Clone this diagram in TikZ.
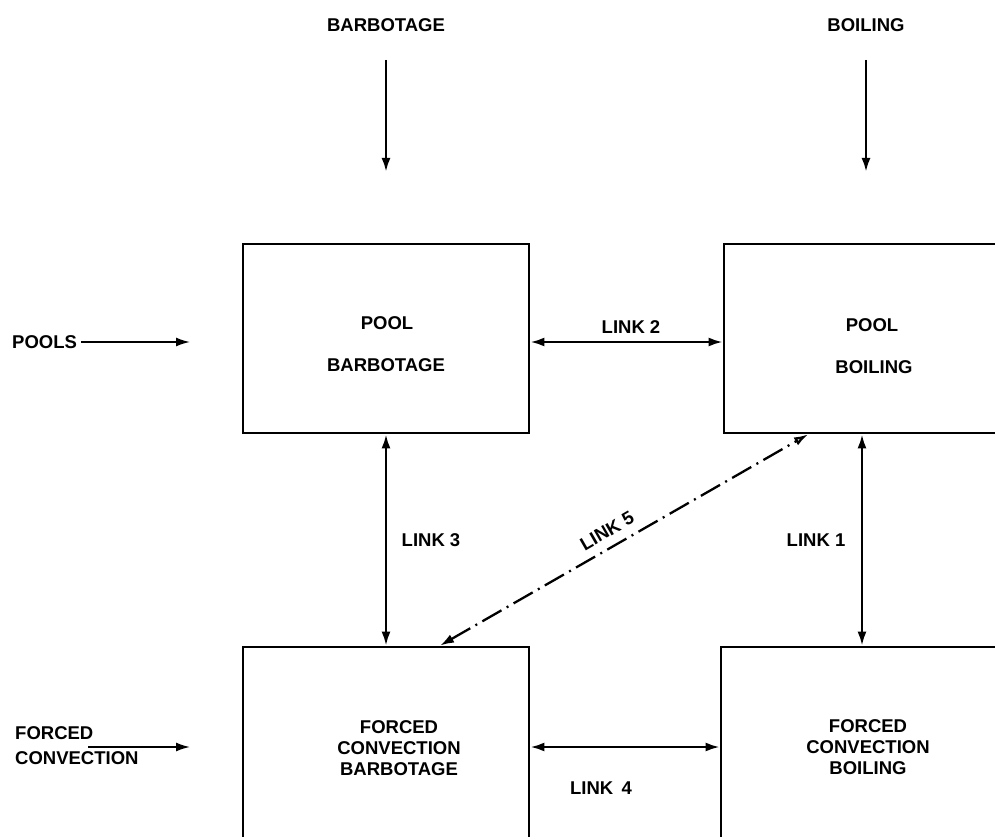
\documentclass[tikz,border=0pt]{standalone}
\usepackage{fontspec}
\setmainfont{Liberation Sans}
\usetikzlibrary{arrows.meta}
\begin{document}
\begin{tikzpicture}[x=1pt,y=-1pt,
  box/.style={draw, line width=2.8pt, inner sep=0pt},
  lbl/.style={font=\bfseries\fontsize{18.5}{21}\selectfont, inner sep=0pt},
  conn/.style={line width=2.6pt, -{Latex[length=14pt,width=9pt]}},
  dconn/.style={line width=2.3pt, {Latex[length=14pt,width=9pt]}-{Latex[length=14pt,width=9pt]}},
  dashconn/.style={line width=2.3pt, dash pattern=on 22pt off 6pt on 2pt off 6pt,
     {Latex[length=14pt,width=9pt]}-{Latex[open,length=14pt,width=9pt]}}
]
\useasboundingbox (0,0) rectangle (995,837);
\clip (0,0) rectangle (995,837);
\fill[white] (0,0) rectangle (995,837);

% boxes
\node[box, minimum width=286pt, minimum height=189pt] (pb) at (386,338.5) {};
\node[box, minimum width=296pt, minimum height=189pt] (pbo) at (872,338.5) {};
\node[box, minimum width=286pt, minimum height=200pt] (fcb) at (386,747) {};
\node[box, minimum width=298pt, minimum height=200pt] (fcbo) at (870,747) {};

% box texts
\node[lbl] (pbt1) at (387,323) {POOL};
\node[lbl] (pbt2) at (386,365) {BARBOTAGE};
\node[lbl] (pbot1) at (872,325) {POOL};
\node[lbl] (pbot2) at (874,367) {BOILING};
\node[lbl, align=center] (fcbt) at (399,748) {FORCED\\CONVECTION\\BARBOTAGE};
\node[lbl, align=center] (fcbot) at (868,747) {FORCED\\CONVECTION\\BOILING};

% outer inputs
\node[lbl] (barb) at (386,25) {BARBOTAGE};
\coordinate (barb1) at (386,60);
\coordinate (barb2) at (386,172);
\draw[conn] (barb1) -- (barb2);

\node[lbl] (boil) at (866,25) {BOILING};
\coordinate (boil1) at (866,60);
\coordinate (boil2) at (866,172);
\draw[conn] (boil1) -- (boil2);

\node[lbl, anchor=west] (pools) at (12,342) {POOLS};
\coordinate (pools2) at (190,342);
\draw[conn, line width=1.8pt] ([xshift=4pt]pools.east) -- (pools2);

\node[lbl, anchor=west, align=left, font=\bfseries\fontsize{18.5}{25}\selectfont] (fc) at (15,746) {FORCED\\CONVECTION};
\coordinate (fc1) at (88,747);
\coordinate (fc2) at (190,747);
\draw[conn, line width=1.8pt] (fc1) -- (fc2);

% links
\draw[dconn] ([yshift=-3.5pt]pb.east) -- ([yshift=-3.5pt]pbo.west);
\node[lbl] (l2) at (631,327) {LINK 2};

\draw[dconn] (pb.south) -- (fcb.north);
\node[lbl] (l3) at (431,540) {LINK 3};

\draw[dconn] ([xshift=-10pt]pbo.south) -- ([xshift=-8pt]fcbo.north);
\node[lbl] (l1) at (816,540) {LINK 1};

\draw[dconn] (fcb.east) -- (fcbo.west);
\node[lbl] (l4) at (601,788) {LINK\, 4};

\draw[dashconn] ([xshift=54pt]fcb.north) -- ([xshift=-64pt]pbo.south);
\node[lbl, rotate=30] (l5) at (607,531) {LINK 5};
\end{tikzpicture}
\end{document}
